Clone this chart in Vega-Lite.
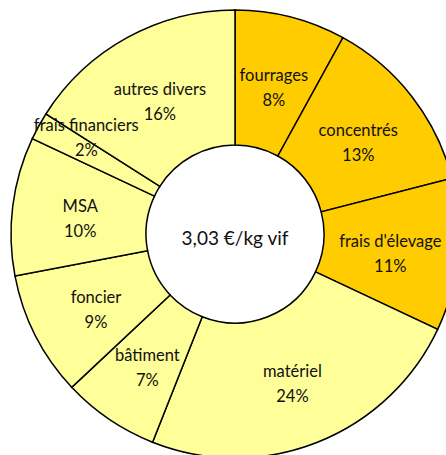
{
  "$schema": "https://vega.github.io/schema/vega-lite/v6.json",
  "autosize": {"type": "none"},
  "width": 422,
  "height": 442,
  "padding": {"left": 24, "top": 13, "right": 0, "bottom": 0},
  "background": "white",
  "config": {"view": {"stroke": null}, "font": "Lato"},
  "layer": [
    {
      "data": {
        "values": [
          {"rang": 1, "poste": "fourrages", "pct": 8, "groupe": "alimentation"},
          {"rang": 2, "poste": "concentrés", "pct": 13, "groupe": "alimentation"},
          {"rang": 3, "poste": "frais d'élevage", "pct": 11, "groupe": "alimentation"},
          {"rang": 4, "poste": "matériel", "pct": 24, "groupe": "structure"},
          {"rang": 5, "poste": "bâtiment", "pct": 7, "groupe": "structure"},
          {"rang": 6, "poste": "foncier", "pct": 9, "groupe": "structure"},
          {"rang": 7, "poste": "MSA", "pct": 10, "groupe": "structure"},
          {"rang": 8, "poste": "frais financiers", "pct": 2, "groupe": "structure"},
          {"rang": 9, "poste": "autres divers", "pct": 16, "groupe": "structure"}
        ]
      },
      "transform": [
        {"stack": "pct", "groupby": [], "sort": [{"field": "rang", "order": "ascending"}], "as": ["debut", "fin"]},
        {"calculate": "(datum.debut + datum.fin) / 2", "as": "milieu"},
        {"calculate": "datum.poste + '\\n' + datum.pct + '%'", "as": "etiquette"}
      ],
      "layer": [
        {
          "mark": {"type": "arc", "innerRadius": 89, "outerRadius": 224, "stroke": "black", "strokeWidth": 1.5},
          "encoding": {
            "theta": {"field": "debut", "type": "quantitative", "scale": {"domain": [0, 100]}},
            "theta2": {"field": "fin"},
            "color": {
              "field": "groupe",
              "type": "nominal",
              "scale": {"domain": ["alimentation", "structure"], "range": ["#FFCC00", "#FFFF99"]},
              "legend": null
            }
          }
        },
        {
          "transform": [{"filter": "datum.rang != 8"}],
          "mark": {"type": "text", "radius": 156, "fontSize": 16.5, "lineBreak": "\n", "lineHeight": 25, "align": "center", "baseline": "middle", "dy": -7, "color": "#111111"},
          "encoding": {
            "theta": {"field": "milieu", "type": "quantitative", "scale": {"domain": [0, 100]}},
            "text": {"field": "etiquette", "type": "nominal"}
          }
        },
        {
          "transform": [{"filter": "datum.rang == 8"}],
          "mark": {"type": "text", "radius": 156, "fontSize": 16.5, "lineBreak": "\n", "lineHeight": 25, "align": "center", "baseline": "middle", "dx": -12, "dy": -33, "color": "#111111"},
          "encoding": {
            "theta": {"field": "milieu", "type": "quantitative", "scale": {"domain": [0, 100]}},
            "text": {"field": "etiquette", "type": "nominal"}
          }
        }
      ]
    },
    {
      "data": {"values": [{"texte": "3,03 €/kg vif"}]},
      "mark": {"type": "text", "fontSize": 19, "align": "center", "baseline": "middle", "dy": 5, "color": "#111111"},
      "encoding": {"text": {"field": "texte", "type": "nominal"}}
    }
  ]
}
